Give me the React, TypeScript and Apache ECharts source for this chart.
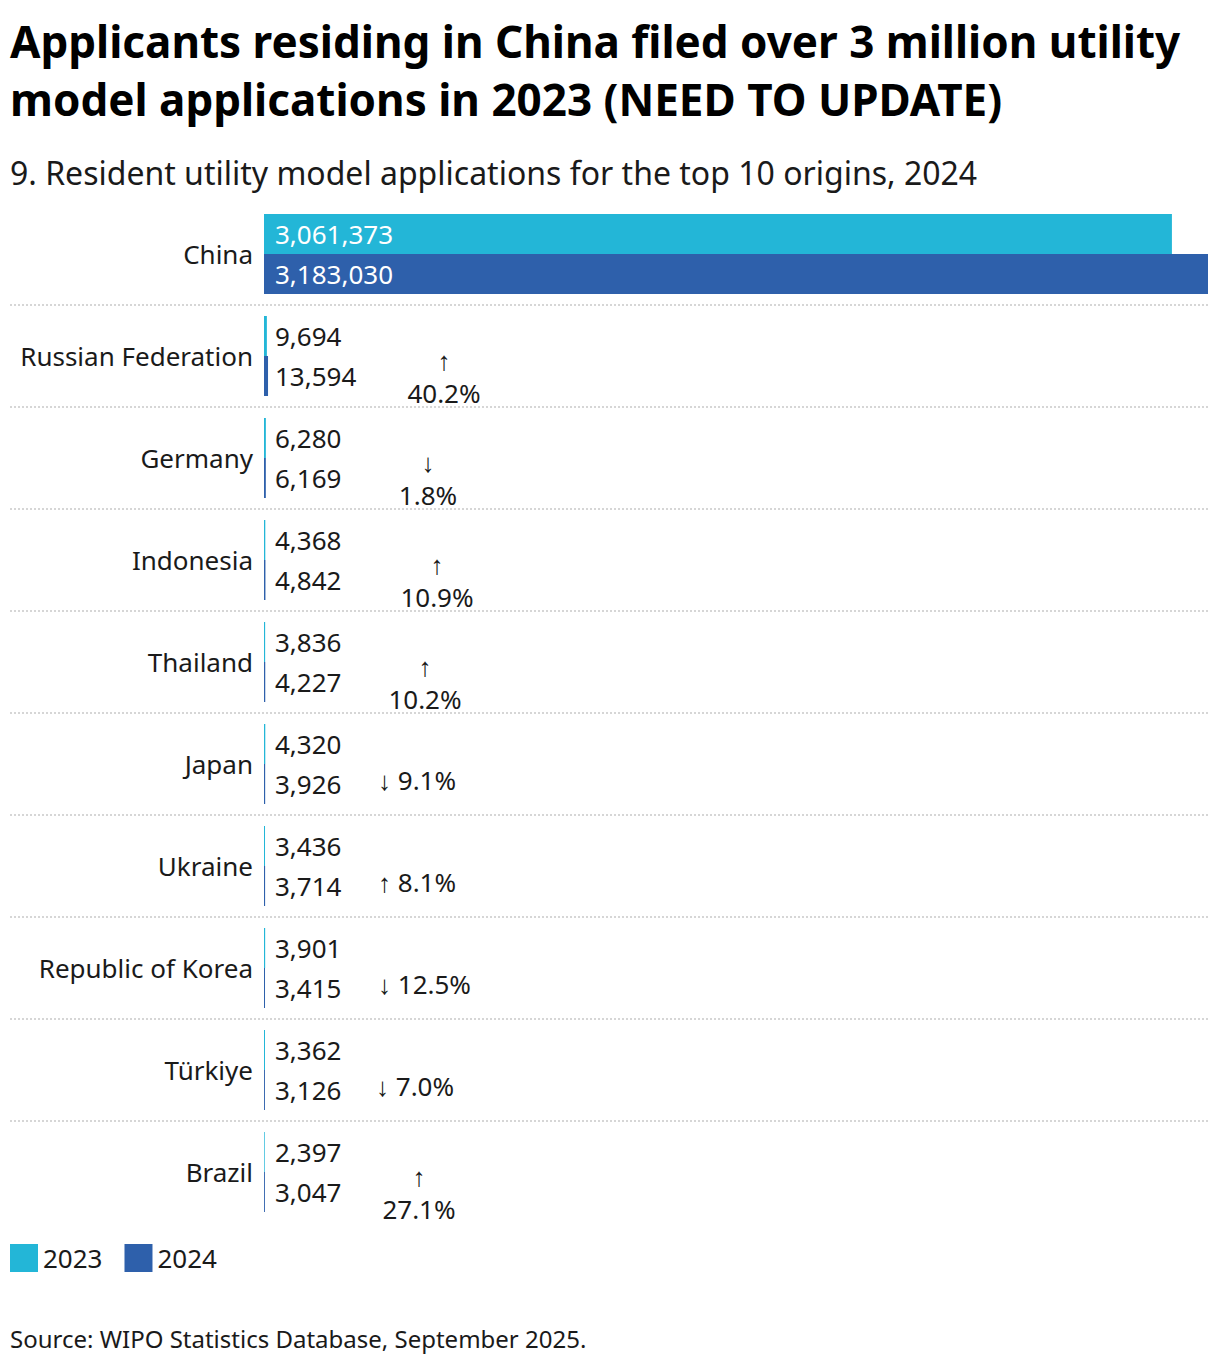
import React, { useEffect, useRef } from "react";
import * as echarts from "echarts";

const categories = [
  "China",
  "Russian Federation",
  "Germany",
  "Indonesia",
  "Thailand",
  "Japan",
  "Ukraine",
  "Republic of Korea",
  "Türkiye",
  "Brazil",
];
const values2023 = [3061373, 9694, 6280, 4368, 3836, 4320, 3436, 3901, 3362, 2397];
const values2024 = [3183030, 13594, 6169, 4842, 4227, 3926, 3714, 3415, 3126, 3047];
const changeArrows = ["", "↑", "↓", "↑", "↑", "↓", "↑", "↓", "↓", "↑"];
const changePercents = ["", "40.2%", "1.8%", "10.9%", "10.2%", "9.1%", "8.1%", "12.5%", "7.0%", "27.1%"];

// label layout (pixel offsets from the axis origin), not data
const changeWrapped = [false, true, true, true, true, false, false, false, false, true];
const changeOffsetX = [0, 180, 164, 173, 161, 114, 114, 114, 112, 155];

const C2023 = "#23B6D7";
const C2024 = "#2E60AB";
const FONT = "Noto Sans";
const TEXT = "#1a1a1a";

export default function App() {
  const ref = useRef<HTMLDivElement>(null);
  useEffect(() => {
    document.body.style.margin = "0";
    const chart = echarts.init(ref.current!, null, { renderer: "svg" });
    const maxVal = Math.max(...values2024, ...values2023);

    const valueLabel = (color: string) => ({
      show: true,
      position: [11, "50%"],
      align: "left",
      verticalAlign: "middle",
      fontFamily: FONT,
      fontSize: 26,
      color,
      formatter: (p: any) => Number(p.value).toLocaleString("en-US"),
    });

    const mkBarData = (vals: number[]) =>
      vals.map((v) => ({
        value: v,
        label: { color: v > maxVal * 0.5 ? "#ffffff" : TEXT },
      }));

    const changeData = categories
      .map((c, i) => (changePercents[i] ? [0, i] : null))
      .filter((d) => d !== null);

    chart.setOption({
      animation: false,
      textStyle: { fontFamily: FONT },
      title: [
        {
          text: "Applicants residing in China filed over 3 million utility\nmodel applications in 2023 (NEED TO UPDATE)",
          left: 10,
          top: 12,
          padding: 0,
          textStyle: {
            fontFamily: FONT,
            fontSize: 44,
            fontWeight: "bold",
            color: "#000",
            lineHeight: 58,
          },
        },
        {
          text: "9. Resident utility model applications for the top 10 origins, 2024",
          left: 10,
          top: 156,
          padding: 0,
          textStyle: {
            fontFamily: FONT,
            fontSize: 32,
            fontWeight: "normal",
            color: TEXT,
          },
        },
        {
          text: "Source: WIPO Statistics Database, September 2025.",
          left: 10,
          top: 1326,
          padding: 0,
          textStyle: {
            fontFamily: FONT,
            fontSize: 24,
            fontWeight: "normal",
            color: TEXT,
          },
        },
      ],
      legend: {
        left: 10,
        top: 1244,
        padding: 0,
        icon: "rect",
        itemWidth: 28,
        itemHeight: 28,
        itemGap: 22,
        textStyle: { fontFamily: FONT, fontSize: 26, color: TEXT },
        data: ["2023", "2024"],
      },
      grid: [
        { left: 264, right: 12, top: 203, height: 1020, containLabel: false },
        { left: 10, right: 12, top: 203, height: 1020, containLabel: false },
      ],
      xAxis: [
        { type: "value", gridIndex: 0, min: 0, max: maxVal, show: false },
        { type: "value", gridIndex: 1, min: 0, max: 1, show: false },
      ],
      yAxis: [
        {
          type: "category",
          gridIndex: 0,
          data: categories,
          inverse: true,
          axisLine: { show: false },
          axisTick: { show: false },
          splitLine: { show: false },
          axisLabel: {
            fontFamily: FONT,
            fontSize: 26,
            color: TEXT,
            margin: 11,
            padding: [0, 0, 9, 0],
          },
        },
        {
          type: "category",
          gridIndex: 1,
          data: categories,
          inverse: true,
          axisLine: { show: false },
          axisTick: { show: false },
          axisLabel: { show: false },
          splitLine: {
            show: true,
            showMinLine: false,
            showMaxLine: false,
            lineStyle: { color: "#d6d6d6", width: 2, type: [2, 2] },
          },
        },
      ],
      series: [
        {
          name: "2023",
          type: "bar",
          xAxisIndex: 0,
          yAxisIndex: 0,
          barWidth: 40,
          barGap: "0%",
          itemStyle: { color: C2023 },
          label: valueLabel(TEXT),
          data: mkBarData(values2023),
        },
        {
          name: "2024",
          type: "bar",
          xAxisIndex: 0,
          yAxisIndex: 0,
          barWidth: 40,
          barGap: "0%",
          itemStyle: { color: C2024 },
          label: valueLabel(TEXT),
          data: mkBarData(values2024),
        },
        {
          name: "change",
          type: "custom",
          xAxisIndex: 0,
          yAxisIndex: 0,
          silent: true,
          z: 5,
          encode: { x: 0, y: 1 },
          renderItem: (params: any, api: any) => {
            const idx = api.value(1);
            const pt = api.coord([api.value(0), idx]);
            const wrapped = changeWrapped[idx];
            const text = wrapped
              ? changeArrows[idx] + "\n" + changePercents[idx]
              : changeArrows[idx] + " " + changePercents[idx];
            return {
              type: "text",
              x: pt[0] + changeOffsetX[idx],
              y: pt[1] + (wrapped ? 20 : 16),
              style: {
                text,
                fill: TEXT,
                font: `26px "${FONT}"`,
                align: wrapped ? "center" : "left",
                verticalAlign: "middle",
                lineHeight: 33,
              },
            };
          },
          data: changeData,
        },
      ],
    });
    return () => chart.dispose();
  }, []);
  return <div ref={ref} style={{ width: 1220, height: 1366 }} />;
}
